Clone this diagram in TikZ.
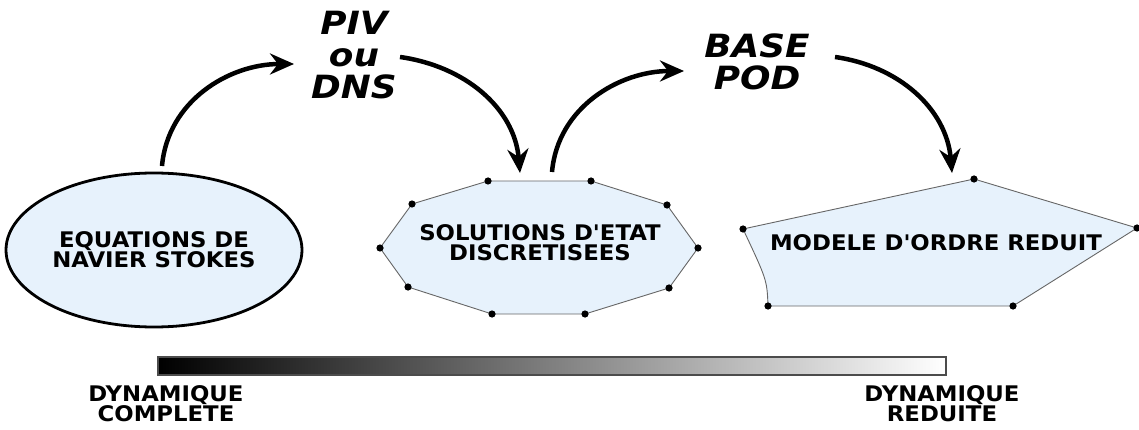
\documentclass[tikz,border=0pt]{standalone}
\usepackage{fontspec}
\setmainfont{DejaVu Sans}
\newfontfamily\boxfont{DejaVu Sans Bold}[FakeStretch=1.06]
\newfontfamily\stepfont{DejaVu Sans Bold Oblique}[FakeStretch=1.12]
\usetikzlibrary{arrows.meta,shapes.geometric}
\definecolor{paleblue}{RGB}{231,242,252}
\tikzset{
  boxtext/.style={font=\boxfont\fontsize{21.5}{20}\selectfont, align=center,
    inner sep=0pt},
  steptext/.style={font=\stepfont\fontsize{32}{32}\selectfont, align=center,
    inner sep=0pt},
  bigarrow/.style={line width=4.5pt,
    -{Stealth[length=24pt,width=21pt,inset=8pt]}},
  rim/.style={draw=gray!80!black, line width=0.9pt, fill=paleblue},
}

\begin{document}
\begin{tikzpicture}[x=1pt,y=-1pt]
    \useasboundingbox (0,0) rectangle (1139,430);

    \node[ellipse, draw, line width=2.8pt, fill=paleblue, minimum width=296pt,
      minimum height=154pt, boxtext] (nse) at (154,250)
      {EQUATIONS DE\\NAVIER STOKES};

    \foreach \n/\p in {1/{488,181}, 2/{591,181}, 3/{667,205}, 4/{698,248},
      5/{669,288}, 6/{585,314}, 7/{492,314}, 8/{408,287}, 9/{380,248},
      10/{412,204}}
      \coordinate (s\n) at (\p);
    \draw[rim] (s1) -- (s2) -- (s3) -- (s4) -- (s5) -- (s6) -- (s7) -- (s8)
      -- (s9) -- (s10) -- cycle;
    \foreach \n in {1,...,10}
      \fill (s\n) circle (3.6pt);
    \node[boxtext] (sol) at (540,243) {SOLUTIONS D'ETAT\\DISCRETISEES};

    \foreach \n/\p in {1/{974,179}, 2/{1137,228}, 3/{1013,306}, 4/{768,306},
      5/{743,229}}
      \coordinate (m\n) at (\p);
    \draw[rim] (m1) -- (m2) -- (m3) -- (m4) .. controls (767,280) .. (m5)
      -- cycle;
    \foreach \n in {1,...,5}
      \fill (m\n) circle (3.6pt);
    \node[boxtext] (mod) at (936,243) {MODELE D'ORDRE REDUIT};

    \node[steptext] (piv) at (354,55) {PIV\\ou\\DNS};
    \node[steptext] (pod) at (757,62) {BASE\\POD};

    \coordinate (a1s) at (162,166);
    \coordinate (a1e) at (294,64);
    \coordinate (a2s) at (400,57);
    \coordinate (a2e) at (520,173);
    \coordinate (a3s) at (552,172);
    \coordinate (a3e) at (684,71);
    \coordinate (a4s) at (835,57);
    \coordinate (a4e) at (952,173);
    \draw[bigarrow] (a1s) to[out=85, in=180] (a1e);
    \draw[bigarrow] (a2s) to[out=-8, in=95] (a2e);
    \draw[bigarrow] (a3s) to[out=85, in=180] (a3e);
    \draw[bigarrow] (a4s) to[out=-8, in=95] (a4e);

    \shadedraw[left color=black, right color=white, draw=gray!60!black,
      line width=1.2pt] (158,357) rectangle (946,375);
    \node[boxtext] (full) at (166,404) {DYNAMIQUE\\COMPLETE};
    \node[boxtext] (reduced) at (942,404) {DYNAMIQUE\\REDUITE};
\end{tikzpicture}
\end{document}
